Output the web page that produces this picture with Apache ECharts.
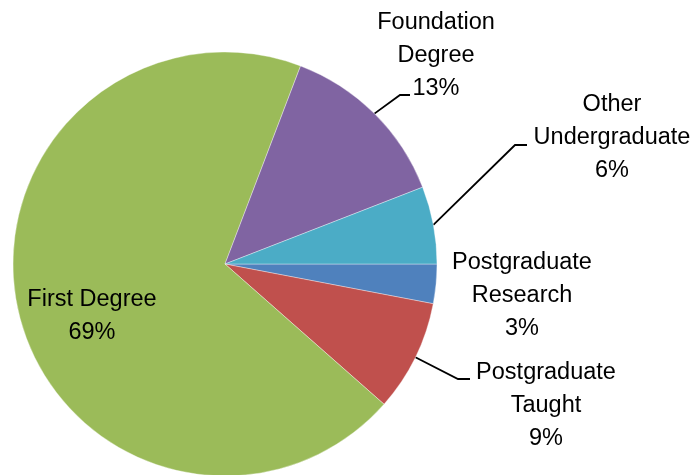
<!DOCTYPE html>
<html>
<head>
<meta charset="utf-8">
<script src="https://cdn.jsdelivr.net/npm/echarts@6/dist/echarts.min.js"></script>
<style>
  html, body { margin: 0; padding: 0; background: #fff; }
  #main { width: 699px; height: 475px; }
</style>
</head>
<body>
<div id="main"></div>
<script>
// slices, clockwise from 3 o'clock
var categories = ['Postgraduate Research', 'Postgraduate Taught', 'First Degree', 'Foundation Degree', 'Other Undergraduate']
var shares = [3.0, 8.5, 69.3, 13.3, 5.9]
var labelText = ['Postgraduate\nResearch', 'Postgraduate\nTaught', 'First Degree', 'Foundation\nDegree', 'Other\nUndergraduate']
var colors = ['#4f81bd', '#c0504d', '#9bbb59', '#8064a2', '#4bacc6']

// label block centre x, y, leader end offset from centre, elbow length (null = no leader)
var labelSpots = [
  [522, 296, 0, 0, null],
  [546, 406, -76, -27, 12],
  [92, 316, 0, 0, null],
  [436, 56, -26, 39, 10],
  [612, 138, -85, 7, 12]
]

var font = 'Liberation Sans'

var myChart = echarts.init(document.getElementById('main'))

var pieData = []
for (var i = 0; i < categories.length; i++) {
  var item = {
    name: categories[i],
    value: shares[i],
    itemStyle: { color: colors[i] }
  }
  if (labelSpots[i][4] === null) {
    item.labelLine = { show: false }
  }
  if (i === 2) {
    item.label = { position: 'inner' }
  }
  pieData.push(item)
}

var option = {
  animation: false,
  series: [
    {
      type: 'pie',
      center: [225, 264],
      radius: 212,
      startAngle: 0,
      clockwise: true,
      avoidLabelOverlap: false,
      itemStyle: {
        borderColor: 'rgba(255,255,255,0.6)',
        borderWidth: 0.6
      },
      label: {
        show: true,
        position: 'outside',
        formatter: function (p) {
          var lines = labelText[p.dataIndex].split('\n')
          lines.push(Math.round(p.value) + '%')
          return lines.map(function (l) { return '{t|' + l + '}' }).join('\n')
        },
        rich: {
          t: {
            fontFamily: font,
            fontSize: 23.5,
            lineHeight: 33,
            color: '#000',
            align: 'center'
          }
        }
      },
      labelLine: {
        show: true,
        length: 20,
        length2: 10,
        smooth: false,
        lineStyle: { color: '#000', width: 1.8 }
      },
      labelLayout: function (p) {
        var s = labelSpots[p.dataIndex]
        var out = { x: s[0], y: s[1], align: 'center', verticalAlign: 'middle' }
        if (s[4] !== null && p.labelLinePoints) {
          var ex = s[0] + s[2]
          var ey = s[1] + s[3]
          out.labelLinePoints = [p.labelLinePoints[0], [ex - s[4], ey], [ex, ey]]
        }
        return out
      },
      data: pieData
    }
  ]
}
myChart.setOption(option)
</script>
</body>
</html>
